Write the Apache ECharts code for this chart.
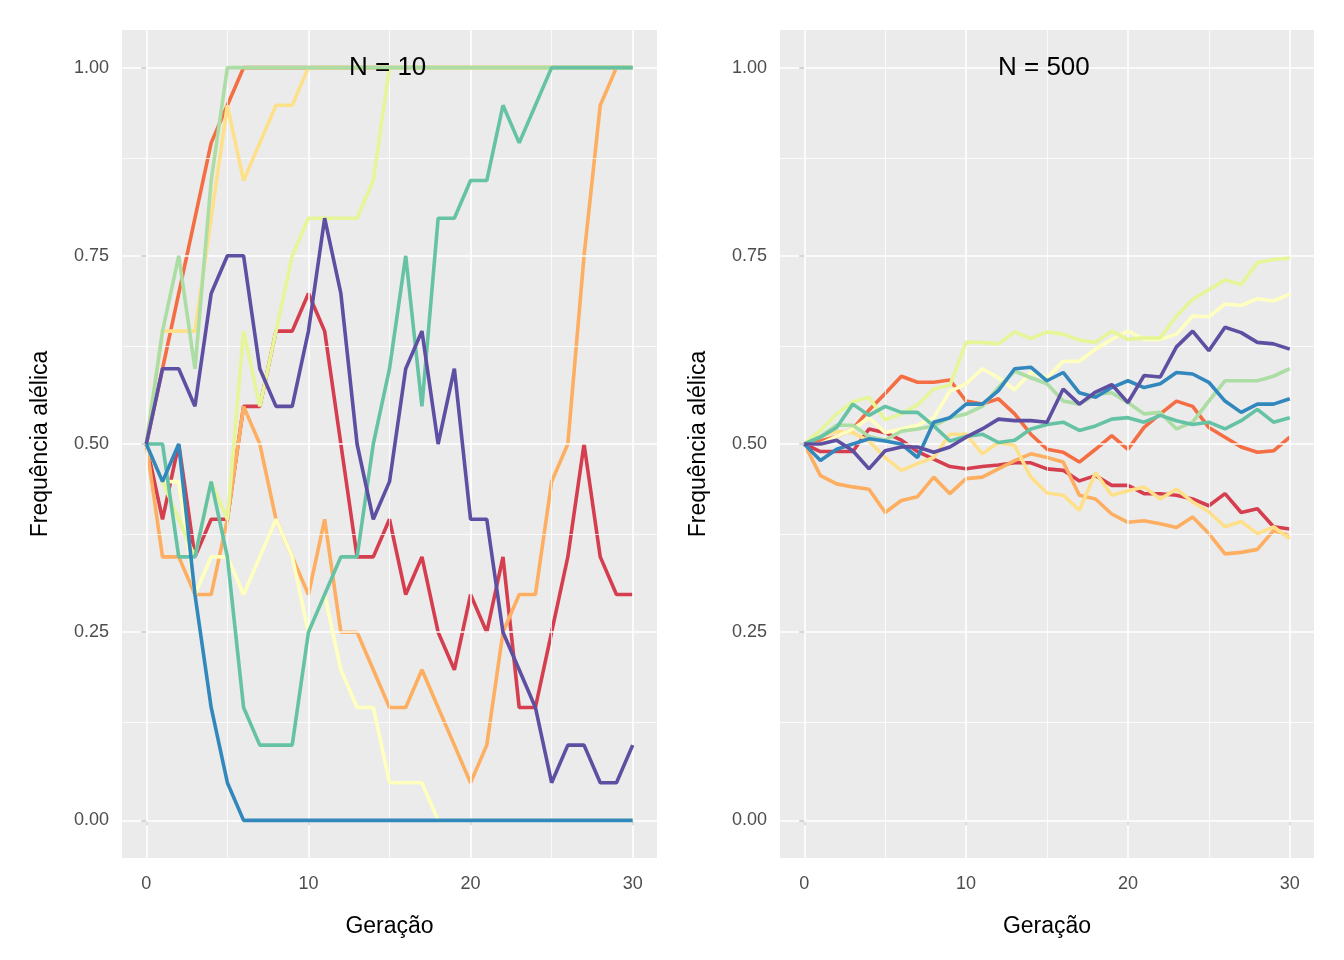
<!DOCTYPE html>
<html><head><meta charset="utf-8">
<script src="https://cdn.jsdelivr.net/npm/echarts@6/dist/echarts.min.js"></script>
<style>html,body{margin:0;padding:0;background:#fff}#c{width:1344px;height:960px}</style>
</head><body><div id="c"></div>
<script>
const generations = [0,1,2,3,4,5,6,7,8,9,10,11,12,13,14,15,16,17,18,19,20,21,22,23,24,25,26,27,28,29,30];
const colors = ['#D53E4F','#F46D43','#FDAE61','#FEE08B','#FFFFBF','#E6F598','#ABDDA4','#66C2A5','#3288BD','#5E4FA2'];
const xTicks = [0,10,20,30];
const yTicks = [0,0.25,0.5,0.75,1];
const yTickLabels = ['0.00','0.25','0.50','0.75','1.00'];
const panelTitles = ['N = 10','N = 500'];

// N = 10
const L1 = [0.5,0.4,0.5,0.35,0.4,0.4,0.55,0.55,0.65,0.65,0.7,0.65,0.5,0.35,0.35,0.4,0.3,0.35,0.25,0.2,0.3,0.25,0.35,0.15,0.15,0.25,0.35,0.5,0.35,0.3,0.3];
const L2 = [0.5,0.6,0.7,0.8,0.9,0.95,1,1,1,1,1,1,1,1,1,1,1,1,1,1,1,1,1,1,1,1,1,1,1,1,1];
const L3 = [0.5,0.35,0.35,0.3,0.3,0.4,0.55,0.5,0.4,0.35,0.3,0.4,0.25,0.25,0.2,0.15,0.15,0.2,0.15,0.1,0.05,0.1,0.25,0.3,0.3,0.45,0.5,0.75,0.95,1,1];
const L4 = [0.5,0.65,0.65,0.65,0.8,0.95,0.85,0.9,0.95,0.95,1,1,1,1,1,1,1,1,1,1,1,1,1,1,1,1,1,1,1,1,1];
const L5 = [0.5,0.45,0.45,0.3,0.35,0.35,0.3,0.35,0.4,0.35,0.25,0.3,0.2,0.15,0.15,0.05,0.05,0.05,0,0,0,0,0,0,0,0,0,0,0,0,0];
const L6 = [0.5,0.45,0.4,0.35,0.45,0.4,0.65,0.55,0.65,0.75,0.8,0.8,0.8,0.8,0.85,1,1,1,1,1,1,1,1,1,1,1,1,1,1,1,1];
const L7 = [0.5,0.65,0.75,0.6,0.85,1,1,1,1,1,1,1,1,1,1,1,1,1,1,1,1,1,1,1,1,1,1,1,1,1,1];
const L8 = [0.5,0.5,0.35,0.35,0.45,0.35,0.15,0.1,0.1,0.1,0.25,0.3,0.35,0.35,0.5,0.6,0.75,0.55,0.8,0.8,0.85,0.85,0.95,0.9,0.95,1,1,1,1,1,1];
const L9 = [0.5,0.45,0.5,0.3,0.15,0.05,0,0,0,0,0,0,0,0,0,0,0,0,0,0,0,0,0,0,0,0,0,0,0,0,0];
const L10 = [0.5,0.6,0.6,0.55,0.7,0.75,0.75,0.6,0.55,0.55,0.65,0.8,0.7,0.5,0.4,0.45,0.6,0.65,0.5,0.6,0.4,0.4,0.25,0.2,0.15,0.05,0.1,0.1,0.05,0.05,0.1];

// N = 500
const R1 = [0.5,0.49,0.49,0.49,0.52,0.515,0.505,0.49,0.48,0.47,0.467,0.47,0.472,0.475,0.475,0.467,0.465,0.451,0.458,0.445,0.445,0.434,0.434,0.432,0.427,0.418,0.434,0.409,0.414,0.39,0.387];
const R2 = [0.5,0.504,0.51,0.52,0.545,0.567,0.59,0.582,0.582,0.585,0.557,0.553,0.56,0.54,0.513,0.493,0.489,0.476,0.493,0.511,0.493,0.522,0.54,0.557,0.55,0.522,0.509,0.496,0.489,0.491,0.509];
const R3 = [0.5,0.458,0.447,0.443,0.44,0.409,0.425,0.43,0.456,0.434,0.454,0.456,0.467,0.478,0.487,0.482,0.476,0.432,0.427,0.407,0.396,0.398,0.394,0.389,0.403,0.381,0.354,0.356,0.36,0.385,0.378];
const R4 = [0.5,0.51,0.517,0.515,0.504,0.482,0.465,0.474,0.482,0.513,0.513,0.487,0.502,0.498,0.456,0.435,0.432,0.412,0.462,0.432,0.438,0.443,0.427,0.44,0.423,0.41,0.39,0.397,0.381,0.39,0.374];
const R5 = [0.5,0.5,0.51,0.52,0.535,0.515,0.52,0.525,0.535,0.57,0.58,0.6,0.588,0.572,0.595,0.588,0.61,0.61,0.626,0.639,0.65,0.639,0.639,0.646,0.67,0.669,0.686,0.684,0.693,0.69,0.699];
const R6 = [0.5,0.518,0.54,0.556,0.562,0.532,0.54,0.552,0.573,0.578,0.635,0.635,0.633,0.649,0.64,0.649,0.646,0.638,0.635,0.65,0.639,0.641,0.641,0.67,0.692,0.705,0.718,0.712,0.741,0.745,0.747];
const R7 = [0.5,0.51,0.525,0.525,0.51,0.505,0.517,0.52,0.524,0.535,0.54,0.55,0.575,0.597,0.588,0.58,0.557,0.553,0.566,0.568,0.555,0.54,0.542,0.52,0.529,0.557,0.584,0.584,0.584,0.59,0.6];
const R8 = [0.5,0.509,0.522,0.553,0.538,0.55,0.542,0.542,0.524,0.504,0.51,0.513,0.502,0.505,0.52,0.526,0.529,0.518,0.524,0.533,0.535,0.529,0.538,0.531,0.526,0.529,0.52,0.531,0.546,0.529,0.535];
const R9 = [0.5,0.478,0.493,0.5,0.507,0.504,0.5,0.482,0.529,0.535,0.553,0.553,0.571,0.6,0.602,0.584,0.595,0.568,0.562,0.575,0.584,0.575,0.58,0.595,0.593,0.582,0.557,0.542,0.553,0.553,0.56];
const R10 = [0.5,0.5,0.505,0.491,0.467,0.491,0.496,0.496,0.489,0.496,0.509,0.52,0.533,0.531,0.531,0.529,0.573,0.553,0.569,0.579,0.555,0.591,0.589,0.629,0.65,0.624,0.655,0.648,0.635,0.633,0.626];

const leftData = [L1,L2,L3,L4,L5,L6,L7,L8,L9,L10];
const rightData = [R1,R2,R3,R4,R5,R6,R7,R8,R9,R10];

const font = 'Liberation Sans, Arial, sans-serif';
const xMajor = [0,10,20,30], xMinor = [5,15,25];
const yMajor = [0,0.25,0.5,0.75,1], yMinor = [0.125,0.375,0.625,0.875];

function gridLines(idx){
  const ml = [];
  xMinor.forEach(v=>ml.push({xAxis:v,lineStyle:{width:0.8}}));
  yMinor.forEach(v=>ml.push({yAxis:v,lineStyle:{width:0.8}}));
  xMajor.forEach(v=>ml.push({xAxis:v,lineStyle:{width:1.6}}));
  yMajor.forEach(v=>ml.push({yAxis:v,lineStyle:{width:1.6}}));
  return {type:'line',xAxisIndex:idx,yAxisIndex:idx,data:[],silent:true,z:1,
    markLine:{symbol:'none',silent:true,label:{show:false},animation:false,
      lineStyle:{color:'#ffffff',type:'solid'},data:ml}};
}

const grids = [{left:122,top:30,width:535,height:828},{left:780,top:30,width:534,height:828}];
const xAxes = [], yAxes = [], series = [];
[0,1].forEach(i=>{
  xAxes.push({type:'value',gridIndex:i,min:-1.5,max:31.5,
    name:'Geração',nameLocation:'middle',nameGap:57,nameTextStyle:{fontSize:23,color:'#000',fontFamily:font},
    axisLine:{show:false},splitLine:{show:false},
    axisTick:{show:true,customValues:xTicks,length:5,lineStyle:{color:'#333',width:1.6}},
    axisLabel:{customValues:xTicks,fontSize:18,color:'#4d4d4d',fontFamily:font,margin:17}});
  yAxes.push({type:'value',gridIndex:i,min:-0.05,max:1.05,
    name:'Frequência alélica',nameLocation:'middle',nameGap:70,nameTextStyle:{fontSize:23,color:'#000',fontFamily:font},
    axisLine:{show:false},splitLine:{show:false},
    axisTick:{show:true,customValues:yTicks,length:5,lineStyle:{color:'#333',width:1.6}},
    axisLabel:{customValues:yTicks,fontSize:18,color:'#4d4d4d',fontFamily:font,margin:13,
      formatter:v=>{const k=yTicks.findIndex(t=>Math.abs(t-v)<1e-9);return k>=0?yTickLabels[k]:'';}}});
  series.push(gridLines(i));
  const d = i===0?leftData:rightData;
  d.forEach((arr,j)=>{
    series.push({type:'line',xAxisIndex:i,yAxisIndex:i,showSymbol:false,symbol:'none',z:2+j,
      lineStyle:{color:colors[j],width:3.6},itemStyle:{color:colors[j]},
      data:generations.map((g,k)=>[g,arr[k]]),animation:false});
  });
});

const chart = echarts.init(document.getElementById('c'));
chart.setOption({
  backgroundColor:'#ffffff',
  animation:false,
  grid: grids.map(g=>Object.assign({containLabel:false,backgroundColor:'#EBEBEB',show:true,borderWidth:0},g)),
  xAxis:xAxes, yAxis:yAxes, series:series,
  graphic:[
    {type:'text',left:349,top:55,z:100,style:{text:panelTitles[0],fontSize:26,fill:'#000',fontFamily:font}},
    {type:'text',left:998,top:55,z:100,style:{text:panelTitles[1],fontSize:26,fill:'#000',fontFamily:font}}
  ]
});
</script></body></html>
